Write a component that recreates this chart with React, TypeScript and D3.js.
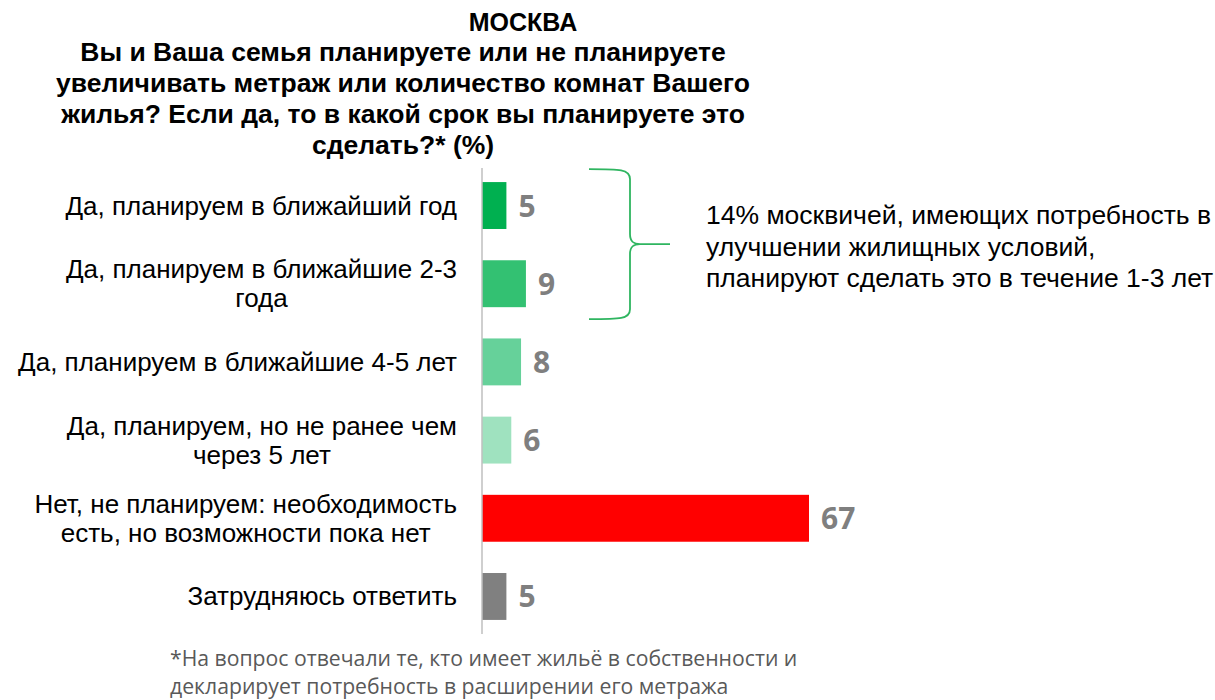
import React from "react";
import * as d3 from "d3";

const categories: string[][] = [
  ["Да, планируем в ближайший год"],
  ["Да, планируем в ближайшие 2-3", "года"],
  ["Да, планируем в ближайшие 4-5 лет"],
  ["Да, планируем, но не ранее чем", "через 5 лет"],
  ["Нет, не планируем: необходимость", "есть, но возможности пока нет"],
  ["Затрудняюсь ответить"],
];
const values: number[] = [5, 9, 8, 6, 67, 5];
const colors: string[] = ["#00b050", "#33c172", "#66d19a", "#9fe2bf", "#ff0000", "#808080"];
const titleTop = "МОСКВА";
const titleLines = [
  "Вы и Ваша семья планируете или не планируете",
  "увеличивать метраж или количество комнат Вашего",
  "жилья? Если да, то в какой срок вы планируете это",
  "сделать?* (%)",
];
const noteLines = [
  "14% москвичей, имеющих потребность в",
  "улучшении жилищных условий,",
  "планируют сделать это в течение 1-3 лет",
];
const footLines = [
  "*На вопрос отвечали те, кто имеет жильё в собственности и",
  "декларирует потребность в расширении его метража",
];

const LABEL_FONT = "26px 'Liberation Sans'";
function measure(t: string): number {
  try {
    const c = document.createElement("canvas").getContext("2d");
    if (c) {
      c.font = LABEL_FONT;
      return c.measureText(t).width;
    }
  } catch (e) {}
  return t.length * 13;
}

export default function App() {
  const W = 1215, H = 700;
  const x0 = 482;
  const x = d3.scaleLinear().domain([0, 67]).range([x0, 809]);
  const idx = categories.map((_, i) => String(i));
  const y = d3.scaleBand().domain(idx).range([168, 634]).paddingInner(0.4).paddingOuter(0.18);
  const bw = y.bandwidth();
  const lh = 29;
  const labelRight = 457;
  const brace = (() => {
    const y1 = y("0")! - 13, y2 = y("1")! + bw + 12;
    const xl = 589, xm = 630, tip = 670;
    const ym = (y1 + y2) / 2;
    const p = d3.path();
    p.moveTo(xl, y1);
    p.bezierCurveTo(xm - 10, y1, xm, y1, xm, y1 + 10);
    p.lineTo(xm, ym - 10);
    p.bezierCurveTo(xm, ym - 2, xm + 4, ym, tip - 30, ym);
    p.lineTo(tip, ym);
    p.moveTo(tip - 30, ym);
    p.bezierCurveTo(xm + 4, ym, xm, ym + 2, xm, ym + 10);
    p.lineTo(xm, y2 - 10);
    p.bezierCurveTo(xm, y2, xm - 10, y2, xl, y2);
    return p.toString();
  })();
  return (
    <svg width={W} height={H} style={{ position: "absolute", left: 0, top: 0, background: "#fff" }}
      fontFamily="'Liberation Sans', Arial, sans-serif">
      <text x={523} y={31} textAnchor="middle" fontWeight="bold" fontSize={25}>{titleTop}</text>
      {titleLines.map((t, i) => (
        <text key={i} x={403} y={61 + i * 31} textAnchor="middle" fontWeight="bold" fontSize={26.5}>{t}</text>
      ))}
      {categories.map((lines, i) => {
        const cy = y(String(i))! + bw / 2;
        const startY = cy - ((lines.length - 1) * lh) / 2 + 9;
        const maxW = d3.max(lines, (l) => measure(l)) || 0;
        const cx = labelRight - maxW / 2;
        return (
          <g key={i}>
            {lines.map((l, j) => (
              <text key={j} x={cx} y={startY + j * lh} textAnchor="middle" fontSize={26} fill="#000">{l}</text>
            ))}
          </g>
        );
      })}
      {values.map((v, i) => (
        <rect key={i} x={x(0)} y={y(String(i))} width={x(v) - x(0)} height={bw} fill={colors[i]} />
      ))}
      {values.map((v, i) => (
        <text key={i} x={x(v) + 12} y={y(String(i))! + bw / 2 + 11} fontSize={30} fontWeight="bold"
          fill="#7f7f7f" fontFamily="'Open Sans', sans-serif">{v}</text>
      ))}
      <line x1={x0} x2={x0} y1={168} y2={634} stroke="#bfbfbf" strokeWidth={1.5} />
      <path d={brace} fill="none" stroke="#2fb560" strokeWidth={1.8} />
      {noteLines.map((t, i) => (
        <text key={i} x={706} y={224 + i * 31.5} fontSize={26.5} fill="#000">{t}</text>
      ))}
      {footLines.map((t, i) => (
        <text key={i} x={170} y={666 + i * 27.5} fontSize={21.2} fill="#595959"
          fontFamily="'Open Sans', sans-serif">{t}</text>
      ))}
    </svg>
  );
}
